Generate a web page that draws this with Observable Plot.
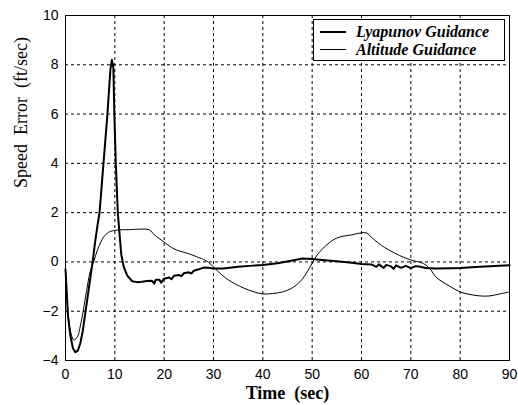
<!DOCTYPE html>
<html>
<head>
<meta charset="utf-8">
<script src="https://cdn.jsdelivr.net/npm/d3@7"></script>
<script src="https://cdn.jsdelivr.net/npm/@observablehq/plot@0.6"></script>
<style>
  html, body { margin: 0; padding: 0; background: #fff; }
  #wrap { position: relative; width: 518px; height: 405px; }
  #legend {
    position: absolute; left: 313px; top: 19px; width: 192px; height: 42px;
    border: 1px solid #000; background: #fff; box-sizing: border-box;
    font-family: "Liberation Serif", "Times New Roman", serif;
    font-style: italic; font-weight: bold; font-size: 16px; color: #000;
  }
  #legend .row { position: absolute; left: 6px; height: 19px; display: flex; align-items: center; white-space: nowrap; }
  #legend .sw { width: 26px; margin-right: 10px; background: #000; }
</style>
</head>
<body>
<div id="wrap">
  <div id="chart"></div>
  <div id="legend"></div>
</div>
<script>
// Speed error histories (time in sec, error in ft/sec)
const lyapTime = [0, 0.5, 1, 1.5, 2, 2.5, 3, 3.5, 4, 4.5, 5, 5.5, 6, 6.5, 6.9, 7.7, 8.5, 9.1, 9.4, 9.7, 9.9, 10.2, 10.6, 11.3, 11.8, 12.5, 13.5, 14.5, 15.5, 16.5, 17.5,
  18, 18.3, 19, 19.4, 20, 21, 21.5, 22, 23, 23.5, 24, 25, 25.5, 26, 27, 28, 29, 30, 32, 35, 38, 40, 43, 46, 48, 50, 52, 55, 58, 60, 62,
  63, 63.5, 64.5, 65, 66, 66.5, 67, 68, 69, 70, 71, 72, 73, 75, 78, 80, 84, 87, 90];
const lyapError = [-0.3, -2.2, -3.0, -3.5, -3.66, -3.6, -3.3, -2.8, -2.1, -1.4, -0.7, 0, 0.8, 1.5, 2, 4, 6, 7.8, 8.2, 7.9, 6, 4, 2, 0.3, -0.2, -0.55, -0.78, -0.82, -0.8, -0.77, -0.76,
  -0.88, -0.72, -0.72, -0.84, -0.68, -0.63, -0.7, -0.56, -0.53, -0.58, -0.46, -0.42, -0.47, -0.36, -0.3, -0.23, -0.24, -0.27, -0.27, -0.2, -0.15, -0.12, -0.05, 0.06, 0.14, 0.12, 0.08, 0.03, -0.03, -0.08, -0.1,
  -0.2, -0.1, -0.24, -0.12, -0.18, -0.28, -0.14, -0.24, -0.16, -0.25, -0.17, -0.2, -0.25, -0.27, -0.26, -0.25, -0.2, -0.17, -0.13];

const altTime = [0, 0.5, 1, 1.7, 2.5, 3, 3.5, 4, 4.5, 5, 5.7, 6.5, 7.7, 8.7, 9.7, 11, 13, 15, 17, 18, 19, 20, 21, 22, 23, 25, 27, 28, 29, 30, 31, 33, 36, 38, 40, 42, 44, 46, 47, 48, 49, 50, 51, 53, 55, 58, 61, 62, 64, 67, 70, 72, 73, 74, 75, 76.5, 78, 80, 82, 84, 86, 88, 90];
const altError = [-0.4, -2.0, -2.8, -3.17, -3.0, -2.6, -2.1, -1.5, -0.9, -0.4, 0, 0.5, 1.0, 1.2, 1.27, 1.3, 1.31, 1.33, 1.3, 1.1, 0.95, 0.8, 0.65, 0.53, 0.45, 0.33, 0.18, 0.1, -0.02, -0.2, -0.4, -0.73, -1.05, -1.2, -1.3, -1.28, -1.22, -1.05, -0.9, -0.7, -0.4, -0.05, 0.28, 0.7, 0.97, 1.1, 1.18, 1.0, 0.68, 0.33, 0.08, -0.02, -0.12, -0.3, -0.6, -0.82, -1.0, -1.22, -1.32, -1.38, -1.38, -1.3, -1.22];

const xTicks = [0, 10, 20, 30, 40, 50, 60, 70, 80, 90];
const yTicks = [-4, -2, 0, 2, 4, 6, 8, 10];

const seriesNames = ["Lyapunov Guidance", "Altitude Guidance"];
const seriesWidths = [2, 1];

const lyap = lyapTime.map((t, i) => ({t, v: lyapError[i]}));
const alt = altTime.map((t, i) => ({t, v: altError[i]}));

const tickFont = {fontFamily: "'Liberation Sans', Arial, sans-serif", fontSize: 14};
const serif = "'Liberation Serif', 'Times New Roman', serif";

const chart = Plot.plot({
  width: 518,
  height: 405,
  marginLeft: 65,
  marginRight: 9,
  marginTop: 15,
  marginBottom: 45,
  style: {background: "#fff", color: "#000", overflow: "visible"},
  x: {domain: [0, 90]},
  y: {domain: [-4, 10]},
  marks: [
    Plot.gridX(xTicks, {stroke: "#000", strokeOpacity: 1, strokeWidth: 1, strokeDasharray: "3,3"}),
    Plot.gridY(yTicks, {stroke: "#000", strokeOpacity: 1, strokeWidth: 1, strokeDasharray: "3,3"}),
    Plot.axisX(xTicks, {tickSize: 0, tickPadding: 9, label: null, ...tickFont}),
    Plot.axisY(yTicks, {tickSize: 0, tickPadding: 7, label: null, ...tickFont}),
    Plot.line(alt, {x: "t", y: "v", stroke: "#000", strokeWidth: seriesWidths[1], curve: "catmull-rom"}),
    Plot.line(lyap, {x: "t", y: "v", stroke: "#000", strokeWidth: seriesWidths[0], curve: "linear"}),
    Plot.frame({stroke: "#000", strokeWidth: 1}),
    Plot.text(["Time  (sec)"], {frameAnchor: "bottom", dy: 38, fontFamily: serif, fontWeight: "bold", fontSize: 18}),
    Plot.text(["Speed  Error  (ft/sec)"], {frameAnchor: "left", dx: -44, rotate: -90, fontFamily: serif, fontSize: 18})
  ]
});
document.getElementById("chart").appendChild(chart);

// legend box in the upper right of the plot area
const legend = document.getElementById("legend");
seriesNames.forEach((name, i) => {
  const row = document.createElement("div");
  row.className = "row";
  row.style.top = (2 + i * 18) + "px";
  const sw = document.createElement("span");
  sw.className = "sw";
  sw.style.height = seriesWidths[i] + "px";
  row.appendChild(sw);
  row.appendChild(document.createTextNode(name));
  legend.appendChild(row);
});
</script>
</body>
</html>
